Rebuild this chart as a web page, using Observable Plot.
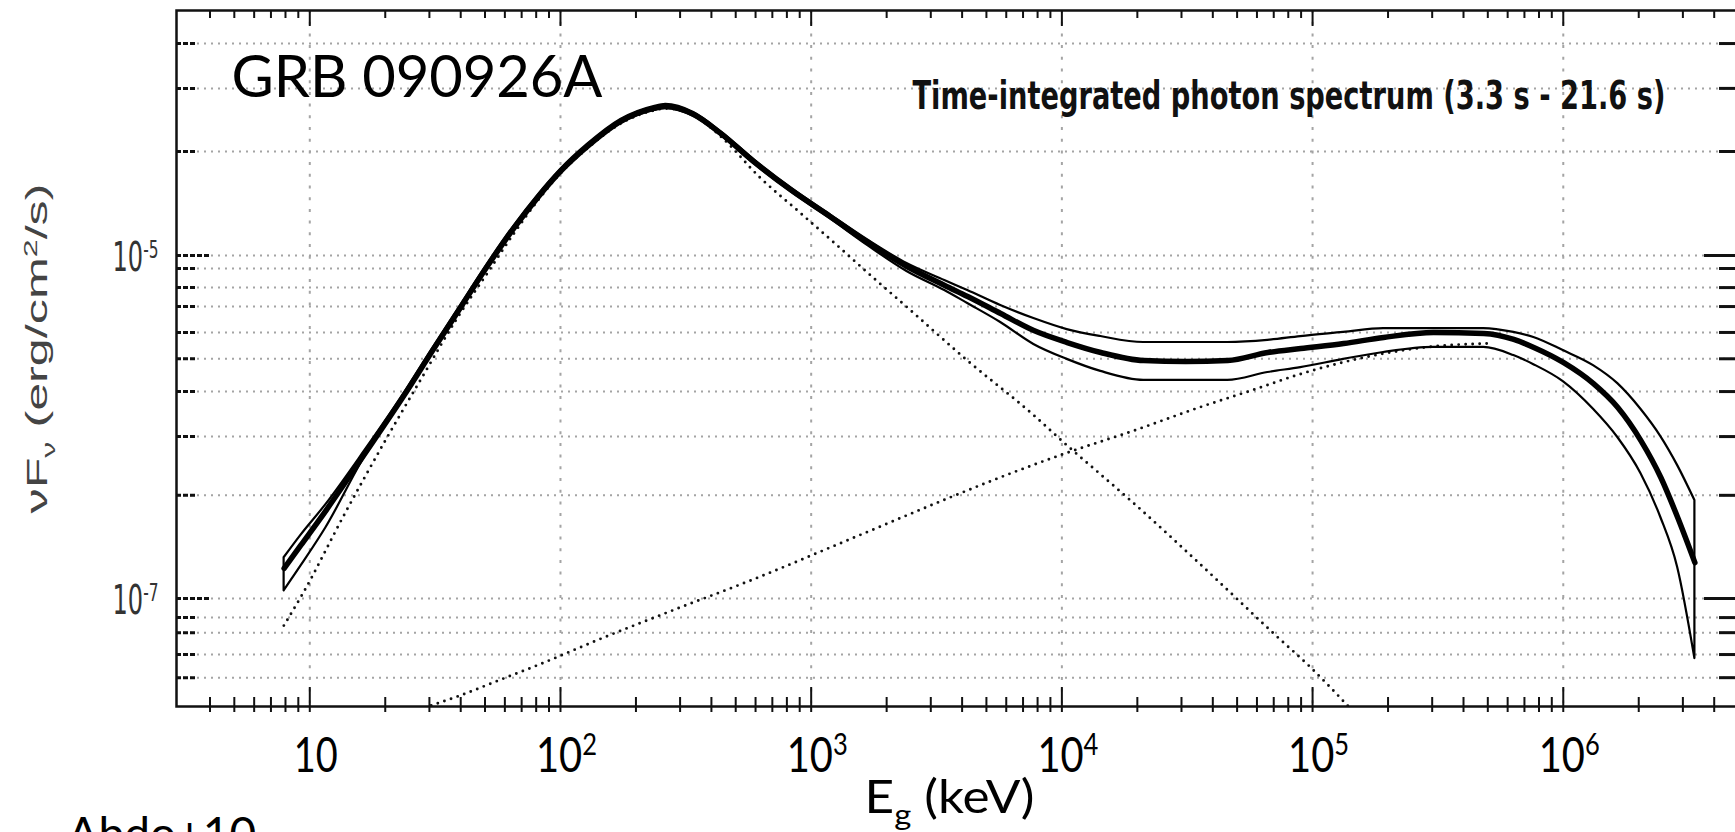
<!DOCTYPE html>
<html>
<head>
<meta charset="utf-8">
<script src="https://cdn.jsdelivr.net/npm/d3@7"></script>
<script src="https://cdn.jsdelivr.net/npm/@observablehq/plot@0.6"></script>
<style>
  html, body { margin: 0; padding: 0; background: #fff; overflow: hidden; }
  #chart { width: 1735px; height: 832px; overflow: hidden; }
</style>
</head>
<body>
<div id="chart"></div>
<script>
// ---- data (energy in keV, nuFnu in the axis units) ----
const energy = [7.9, 9.2, 11.6, 16.6, 23.5, 30.9, 39.7, 51.3, 65.1, 81.2, 100, 128, 174, 236, 263, 340, 436, 590, 837, 1190, 1700, 2410, 3410, 4210, 5700, 7730, 10500, 14300, 21200, 31200, 45900, 66300, 89700, 133000, 192000, 304000, 482000, 635000, 763000, 1000000, 1320000, 1650000, 2040000, 2450000, 2860000, 3350000];
const modelFlux = [1.50e-7, 2.04e-7, 3.26e-7, 7.01e-7, 1.49e-6, 2.79e-6, 4.91e-6, 8.74e-6, 1.44e-5, 2.18e-5, 3.09e-5, 4.32e-5, 6.05e-5, 7.20e-5, 7.39e-5, 6.64e-5, 5.15e-5, 3.53e-5, 2.39e-5, 1.69e-5, 1.18e-5, 8.63e-6, 6.69e-6, 5.77e-6, 4.59e-6, 3.65e-6, 3.11e-6, 2.72e-6, 2.44e-6, 2.41e-6, 2.44e-6, 2.72e-6, 2.87e-6, 3.07e-6, 3.33e-6, 3.56e-6, 3.51e-6, 3.24e-6, 2.91e-6, 2.38e-6, 1.79e-6, 1.30e-6, 8.34e-7, 5.08e-7, 2.97e-7, 1.62e-7];
const upperFlux = [1.73e-7, 2.33e-7, 3.53e-7, 7.30e-7, 1.53e-6, 2.87e-6, 5.04e-6, 8.98e-6, 1.48e-5, 2.24e-5, 3.17e-5, 4.44e-5, 6.21e-5, 7.39e-5, 7.60e-5, 6.82e-5, 5.28e-5, 3.63e-5, 2.46e-5, 1.73e-5, 1.22e-5, 8.98e-6, 7.15e-6, 6.25e-6, 5.11e-6, 4.29e-6, 3.70e-6, 3.37e-6, 3.11e-6, 3.11e-6, 3.11e-6, 3.20e-6, 3.37e-6, 3.56e-6, 3.75e-6, 3.75e-6, 3.75e-6, 3.56e-6, 3.33e-6, 2.79e-6, 2.28e-6, 1.79e-6, 1.27e-6, 8.80e-7, 5.96e-7, 3.73e-7];
const lowerFlux = [1.11e-7, 1.54e-7, 2.59e-7, 6.73e-7, 1.45e-6, 2.72e-6, 4.78e-6, 8.51e-6, 1.40e-5, 2.12e-5, 3.01e-5, 4.21e-5, 5.88e-5, 7.01e-5, 7.20e-5, 6.47e-5, 5.01e-5, 3.44e-5, 2.33e-5, 1.64e-5, 1.13e-5, 8.07e-6, 6.25e-6, 5.25e-6, 4.07e-6, 3.03e-6, 2.48e-6, 2.11e-6, 1.87e-6, 1.87e-6, 1.87e-6, 2.08e-6, 2.22e-6, 2.48e-6, 2.72e-6, 2.91e-6, 2.91e-6, 2.61e-6, 2.31e-6, 1.84e-6, 1.27e-6, 8.69e-7, 5.36e-7, 2.97e-7, 1.52e-7, 4.47e-8];

const bandEnergy = [7.88, 9.38, 13.8, 19.7, 28.0, 38.2, 51.3, 65.1, 81.2, 100, 128, 174, 236, 263, 340, 436, 623, 901, 1240, 1820, 2320, 4200, 7730, 10500, 14300, 18800, 41900, 70000, 98400, 139000];
const bandFlux = [6.96e-8, 1.07e-7, 3.13e-7, 8.01e-7, 1.94e-6, 4.18e-6, 7.96e-6, 1.34e-5, 2.09e-5, 3.01e-5, 4.21e-5, 5.88e-5, 7.01e-5, 7.20e-5, 6.55e-5, 4.94e-5, 2.86e-5, 1.78e-5, 1.18e-5, 7.15e-6, 5.25e-6, 2.44e-6, 1.17e-6, 7.80e-7, 5.28e-7, 3.73e-7, 1.27e-7, 6.25e-8, 3.96e-8, 2.35e-8];

const plEnergy = [30.5, 39.7, 56.5, 80.3, 145, 292, 569, 1440, 3600, 5700, 10200, 19400, 35800, 56700, 89700, 133000, 192000, 304000, 500000];
const plFlux = [2.38e-8, 2.72e-8, 3.33e-8, 4.07e-8, 5.84e-8, 8.74e-8, 1.27e-7, 2.23e-7, 3.90e-7, 5.10e-7, 6.98e-7, 9.54e-7, 1.31e-6, 1.63e-6, 2.04e-6, 2.39e-6, 2.68e-6, 2.95e-6, 3.07e-6];

const xMajorTicks = [10, 100, 1e3, 1e4, 1e5, 1e6];
const xTickLabels = ["10", "10^{2}", "10^{3}", "10^{4}", "10^{5}", "10^{6}"];
const yMajorTicks = [1e-7, 1e-5];
const yTickLabels = ["10^{-7}", "10^{-5}"];
const yGridTicks = [3.46e-8, 4.72e-8, 6.33e-8, 7.75e-8, 4.0e-7, 8.8e-7, 1.61e-6, 2.5e-6, 3.56e-6, 5.04e-6, 6.5e-6, 8.4e-6, 4.04e-5, 9.42e-5, 1.72e-4];

const titleText = "GRB 090926A";
const subtitleText = "Time-integrated photon spectrum (3.3 s - 21.6 s)";
const xLabelText = "E_{g} (keV)";
const yLabelText = "νF_{ν} (erg/cm^{2}/s)";
const noteText = "Abdo+10";

// ---- derived tables ----
const xMinorTicks = [4, 5, 6, 7, 8, 9]
  .concat(...[10, 100, 1e3, 1e4, 1e5].map(d => [2, 3, 4, 5, 6, 7, 8, 9].map(k => k * d)))
  .concat([2e6, 3e6, 4e6]);
const model = energy.map((e, i) => ({energy: e, flux: modelFlux[i], upper: upperFlux[i], lower: lowerFlux[i]}));
const band = bandEnergy.map((e, i) => ({energy: e, flux: bandFlux[i]}));
const pl = plEnergy.map((e, i) => ({energy: e, flux: plFlux[i]}));
const xLabelOf = new Map(xMajorTicks.map((v, i) => [v, xTickLabels[i]]));
const yLabelOf = new Map(yMajorTicks.map((v, i) => [v, yTickLabels[i]]));

const GILL = "Lato, 'Open Sans', sans-serif";
const NARROW = "'Liberation Sans Narrow', 'Arial Narrow', 'DejaVu Sans Condensed', 'Liberation Sans', sans-serif";
const ARIAL = "'Liberation Sans', Arial, sans-serif";
const INK = "#111";
const tickOpts = {fill: "none", label: null, stroke: INK};
const dotted = {stroke: INK, strokeWidth: 2.9, strokeLinecap: "round", strokeDasharray: "0 7", curve: "monotone-x", clip: true};

const chart = Plot.plot({
  width: 1738,
  height: 832,
  marginTop: 10,
  marginRight: 0,
  marginBottom: 126,
  marginLeft: 176,
  style: {maxWidth: "none", background: "white", overflow: "hidden"},
  x: {type: "log", domain: [2.94, 5.0e6], axis: null},
  y: {type: "log", domain: [2.35e-8, 2.68e-4], axis: null},
  marks: [
    Plot.gridY([...yGridTicks, ...yMajorTicks], {stroke: "#a4a4a4", strokeOpacity: 1, strokeWidth: 2, strokeDasharray: "2 5"}),
    Plot.gridX(xMajorTicks, {stroke: "#a4a4a4", strokeOpacity: 1, strokeWidth: 2, strokeDasharray: "3 8.7"}),
    Plot.line(band, {x: "energy", y: "flux", ...dotted}),
    Plot.line(pl, {x: "energy", y: "flux", ...dotted}),
    Plot.areaY(model, {x: "energy", y1: "lower", y2: "upper", fill: "none", stroke: "black", strokeWidth: 2.2, strokeLinejoin: "round", curve: "monotone-x", clip: true}),
    Plot.line(model, {x: "energy", y: "flux", stroke: "black", strokeWidth: 5.5, strokeLinejoin: "round", curve: "monotone-x", clip: true}),
    Plot.frame({stroke: INK, strokeWidth: 2.5}),
    // y ticks (inward, left dashed-looking, right solid)
    Plot.axisY(yGridTicks, {...tickOpts, anchor: "left", tickSize: -20, strokeWidth: 3, strokeDasharray: "5 2"}),
    Plot.axisY(yMajorTicks, {...tickOpts, anchor: "left", tickSize: -35, strokeWidth: 3, strokeDasharray: "5 2"}),
    Plot.axisY(yGridTicks, {...tickOpts, anchor: "right", tickSize: -20, strokeWidth: 3}),
    Plot.axisY(yMajorTicks, {...tickOpts, anchor: "right", tickSize: -35, strokeWidth: 3}),
    // x ticks top and bottom
    Plot.axisX(xMinorTicks, {...tickOpts, anchor: "top", tickSize: -7, strokeWidth: 2}),
    Plot.axisX(xMajorTicks, {...tickOpts, anchor: "top", tickSize: -15, strokeWidth: 2}),
    Plot.axisX(xMinorTicks, {...tickOpts, anchor: "bottom", tickSize: -9, strokeWidth: 2}),
    Plot.axisX(xMajorTicks, {...tickOpts, anchor: "bottom", tickSize: -19, strokeWidth: 2}),
    Plot.axisX([...xMinorTicks, ...xMajorTicks], {...tickOpts, anchor: "bottom", tickSize: 6, strokeWidth: 2}),
    // tick labels
    Plot.axisX(xMajorTicks, {anchor: "bottom", tickSize: 0, tickPadding: 31, label: null, dx: 6,
      tickFormat: d => xLabelOf.get(d), fontSize: 48, fontFamily: GILL, fill: "black"}),
    Plot.axisY(yMajorTicks, {anchor: "left", tickSize: 0, tickPadding: 18, label: null, dy: 3,
      tickFormat: d => yLabelOf.get(d), fontSize: 40, fontFamily: NARROW, fill: "#333"}),
    // annotations
    Plot.text([titleText], {text: d => d, frameAnchor: "top-left", dx: 55, dy: 45, lineAnchor: "top", textAnchor: "start",
      fontSize: 58, fontFamily: GILL, fill: "black"}),
    Plot.text([subtitleText], {text: d => d, frameAnchor: "top-right", dx: -73, dy: 71, lineAnchor: "top", textAnchor: "end",
      fontSize: 39, fontWeight: "bold", fontFamily: NARROW, fill: INK}),
    Plot.text([yLabelText], {text: d => d, frameAnchor: "left", rotate: -90, dx: -151, dy: -10, lineAnchor: "top", textAnchor: "middle",
      fontSize: 30, fontFamily: ARIAL, fill: "#444"}),
    Plot.text([xLabelText], {text: d => d, frameAnchor: "bottom", dx: -8, dy: 74, lineAnchor: "top", textAnchor: "middle",
      fontSize: 46, fontFamily: GILL, fill: "black"}),
    Plot.text([noteText], {text: d => d, frameAnchor: "bottom-left", dx: -109, dy: 111, lineAnchor: "top", textAnchor: "start",
      fontSize: 46, fontFamily: GILL, fill: "black"})
  ]
});
document.getElementById("chart").appendChild(chart);

// ---- turn ^{..} / _{..} markup into real super/subscript tspans, fit a few widths ----
function rich(el) {
  const s = el.textContent;
  if (!/[\^_]\{/.test(s)) return;
  const size = parseFloat(getComputedStyle(el).fontSize) || 16;
  const ns = "http://www.w3.org/2000/svg";
  while (el.firstChild) el.removeChild(el.firstChild);
  let cur = 0;
  const add = (txt, target, fs) => {
    const t = document.createElementNS(ns, "tspan");
    t.textContent = txt;
    const d = target - cur;
    if (d) t.setAttribute("dy", d.toFixed(2));
    if (fs) t.setAttribute("font-size", fs.toFixed(2));
    cur = target;
    el.appendChild(t);
  };
  const re = /([\^_])\{([^}]*)\}/g;
  let last = 0, m;
  while ((m = re.exec(s))) {
    if (m.index > last) add(s.slice(last, m.index), 0);
    add(m[2], m[1] === "^" ? -0.34 * size : 0.26 * size, 0.64 * size);
    last = re.lastIndex;
  }
  if (last < s.length) add(s.slice(last), 0);
}
const fitWidth = new Map([
  [subtitleText, 753], [titleText, 371], [yLabelText, 330], [xLabelText, 170],
  ["10", 44], ["10^{2}", 61], ["10^{3}", 61], ["10^{4}", 61], ["10^{5}", 61], ["10^{6}", 61],
  ["10^{-7}", 46], ["10^{-5}", 46]
]);
chart.querySelectorAll("text").forEach(el => {
  const s = el.textContent;
  if (fitWidth.has(s)) {
    el.setAttribute("textLength", fitWidth.get(s));
    el.setAttribute("lengthAdjust", "spacingAndGlyphs");
  }
  rich(el);
});
</script>
</body>
</html>
